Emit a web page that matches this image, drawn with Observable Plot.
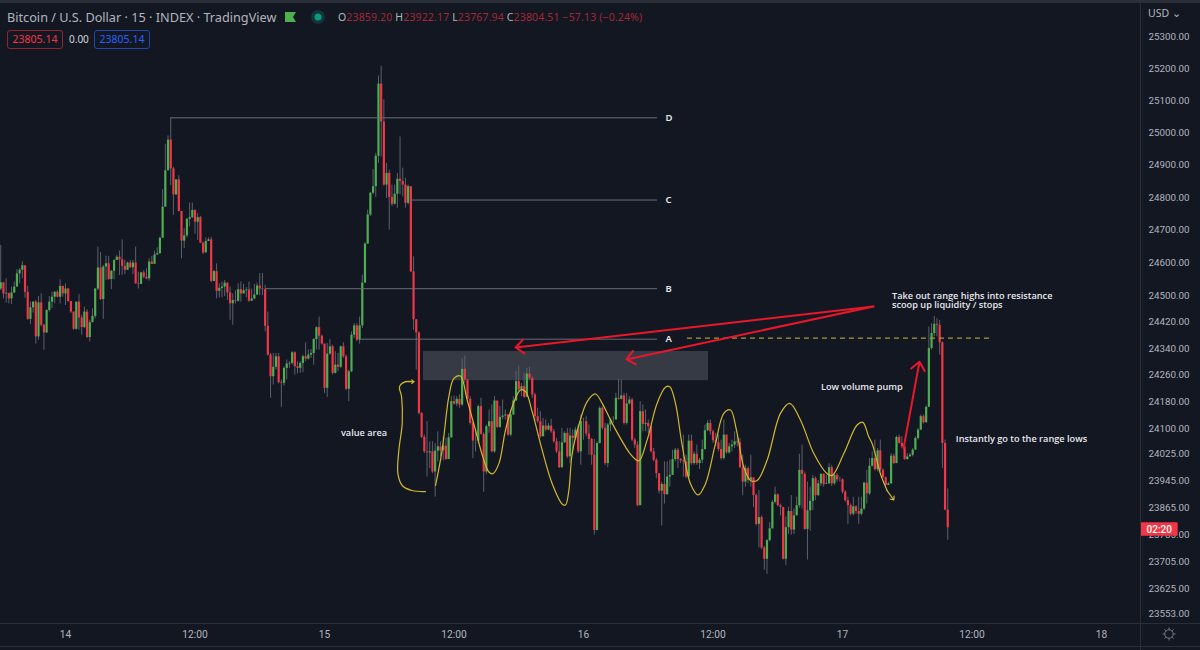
<!DOCTYPE html>
<html>
<head>
<meta charset="utf-8">
<script src="https://cdn.jsdelivr.net/npm/d3@7"></script>
<script src="https://cdn.jsdelivr.net/npm/@observablehq/plot@0.6"></script>
<style>
html,body{margin:0;padding:0;background:#131722;width:1200px;height:650px;overflow:hidden}
#stage{position:relative;width:1200px;height:650px;font-family:"Noto Sans",sans-serif;color:#b2b5be}
#stage svg.plot{position:absolute;left:0;top:0}
.a{position:absolute;white-space:nowrap}
.box{position:absolute;box-sizing:border-box;height:19px;top:30px;width:56px;border:1px solid;border-radius:3px;font-size:10.5px;line-height:17px;text-align:center}
.line{position:absolute;background:#2a2e39}
.o{color:#b2b5be}.r{color:#a32735}
</style>
</head>
<body>
<div id="stage">
  <div class="line" style="left:0;top:0;width:1200px;height:3px"></div>
  <div class="line" style="left:0;top:623px;width:1200px;height:1px"></div>
  <div class="line" style="left:0;top:646px;width:1200px;height:1px"></div>
  <div class="line" style="left:1140px;top:3px;width:1px;height:647px"></div>
  <div class="a" style="left:7px;top:8px;font-size:12.7px;line-height:18px;color:#b2b5be">Bitcoin / U.S. Dollar · 15 · INDEX · TradingView</div>
  <svg class="a" style="left:283px;top:10px" width="50" height="16">
    <polygon points="2,2 13,2 10,7 13,12 2,12" fill="#4caf50"/>
    <circle cx="35" cy="7" r="7" fill="#12343a"/><circle cx="35" cy="7" r="3.5" fill="#089981"/>
  </svg>
  <div class="a" style="left:338px;top:9px;font-size:10.5px;line-height:16px;letter-spacing:.15px"><span class="o">O</span><span class="r">23859.20</span> <span class="o">H</span><span class="r">23922.17</span> <span class="o">L</span><span class="r">23767.94</span> <span class="o">C</span><span class="r">23804.51</span> <span class="r">−57.13 (−0.24%)</span></div>
  <div class="box" style="left:7px;color:#f23645;border-color:#8f2532">23805.14</div>
  <div class="a" style="left:69px;top:31px;font-size:10px;line-height:17px;color:#d1d4dc">0.00</div>
  <div class="box" style="left:94px;color:#2962ff;border-color:#2147b0">23805.14</div>
  <div class="a" style="left:1148px;top:5px;font-size:10.5px;line-height:16px;color:#b2b5be">USD ⌄</div>
  <svg class="a" style="left:1161px;top:626px" width="16" height="16" fill="none" stroke="#787b86" stroke-width="1">
    <circle cx="8" cy="8" r="4.2"/>
    <path d="M8 1.5V3.5M8 12.5V14.5M1.5 8H3.5M12.5 8H14.5M3.4 3.4L4.8 4.8M11.2 11.2L12.6 12.6M3.4 12.6L4.8 11.2M11.2 4.8L12.6 3.4"/>
  </svg>
</div>
<script>
// Candle closes, highs and lows (USD), one per 15 minutes, from 13 Aug 18:00
const closes = [
24539,24505,24507,24490,24508,24526,24566,24577,24591,24510,24428,24463,24480,24375,24478,24410,24387,24455,24480,24495,
24510,24495,24528,24505,24520,24482,24450,24398,24480,24432,24403,24450,24373,24418,24437,24520,24584,24488,24587,24597,
24549,24574,24607,24617,24609,24589,24577,24599,24585,24599,24536,24534,24569,24556,24551,24602,24595,24624,
24628,24675,24770,24882,24977,24888,24808,24854,24757,24666,24682,24733,24738,24760,24724,24738,24660,24630,24665,24670,
24543,24573,24513,24522,24526,24538,24508,24475,24485,24483,24518,24505,24515,24517,24483,24490,24502,24529,24520,24518,
24407,24320,24255,24283,24315,24237,24235,24280,24293,24295,24327,24285,24280,24295,24315,24308,24320,24325,24367,24403,
24377,24353,24220,24323,24345,24265,24290,24283,24345,24315,24217,24270,24380,24408,24365,24408,24538,24657,24746,24813,
24833,24927,25151,25033,24838,24874,24800,24779,24810,24856,24849,24838,24782,24833,24572,24427,24387,24145,
24073,24030,24027,24030,23970,24032,24045,24033,24047,24007,24072,24180,24173,24187,24170,24277,24245,24187,24115,24062,
24062,24165,24082,23970,24105,24120,24030,24182,24103,24133,24137,24140,24080,24140,24182,24240,24215,24225,24193,24263,
24250,24200,24135,24120,24075,24107,24095,24107,24090,24060,24030,23983,24057,24085,24015,24077,24070,24095,24030,24120,
24120,24083,24067,24020,23797,24055,24160,24100,23995,24110,24125,24125,24190,24187,24197,24115,24173,24185,24065,24050,
23870,24150,24112,24115,24105,24030,24005,23965,23913,23933,23903,23955,23960,24007,24035,24007,24003,24000,23955,24062,
23995,24023,23995,24005,24037,24093,24115,24090,24063,24057,24037,24010,24080,24027,24045,24050,24060,24057,23983,23940,
23980,23945,23953,23900,23815,23835,23745,23712,23767,23802,23880,23902,23870,23865,23712,23805,23853,23798,23840,23870,
23975,23963,23800,23855,23883,23950,23900,23935,23963,23933,23935,23983,23935,23960,23947,23947,23910,23885,23870,23845,
23867,23853,23845,23860,23937,23905,23987,
24010,23977,24033,23975,23953,23930,23935,24017,23995,24073,24055,24045,24007,24015,24020,24035,24070,24095,24135,24117,
24163,24340,24385,24413,24410,24357,24055,23857,23805
];
const highs = [
24653,24539,24551,24505,24526,24541,24579,24582,24603,24589,24528,24480,24482,24485,24497,24505,24413,24457,24497,24510,
24513,24515,24548,24529,24536,24522,24480,24450,24480,24503,24440,24465,24457,24425,24460,24522,24648,24631,24592,24620,
24619,24577,24609,24622,24636,24670,24607,24602,24607,24607,24648,24571,24571,24576,24582,24612,24619,24636,
24646,24678,24824,24964,24990,25043,24893,24854,24867,24753,24704,24735,24783,24783,24762,24750,24742,24663,24676,24676,
24678,24577,24597,24536,24541,24546,24538,24526,24505,24515,24536,24541,24534,24524,24541,24520,24534,24538,24567,24567,
24531,24450,24325,24325,24325,24325,24245,24285,24305,24300,24330,24330,24300,24300,24320,24357,24335,24337,24370,24405,
24435,24380,24353,24355,24367,24350,24330,24325,24347,24357,24320,24275,24390,24415,24415,24435,24562,24661,24761,24815,
24886,24936,25176,25207,25102,24905,24884,24838,24838,24874,24987,24890,24859,24838,24833,24618,24425,24390,
24147,24080,24120,24060,24060,24055,24090,24060,24075,24070,24085,24195,24197,24195,24200,24310,24317,24245,24195,24120,
24095,24170,24190,24087,24110,24155,24170,24195,24175,24165,24185,24155,24140,24155,24195,24270,24287,24235,24265,24280,
24283,24255,24205,24160,24150,24130,24125,24115,24127,24097,24070,24060,24100,24090,24100,24100,24095,24103,24110,24140,
24130,24135,24110,24070,24067,24060,24165,24165,24115,24115,24130,24135,24205,24247,24245,24205,24205,24195,24190,24070,
24060,24180,24170,24155,24125,24105,24040,24010,23965,23940,24000,24000,24005,24035,24040,24040,24010,24080,24020,24080,
24080,24030,24050,24010,24065,24110,24123,24125,24095,24085,24080,24065,24125,24080,24055,24065,24090,24080,24070,24020,
23990,23985,24020,23947,23905,23915,23840,23750,23770,23820,23885,23925,23905,23875,23837,23837,23865,23900,23860,23895,
24023,24050,23970,23940,23925,23960,23955,23945,23965,23965,23960,23995,23990,23965,23965,23955,23950,23915,23895,23875,
23895,23870,23895,23895,23940,23975,24010,
24030,24065,24040,24065,23980,23955,23940,24025,24023,24077,24080,24075,24050,24025,24025,24040,24075,24100,24140,24140,
24167,24405,24415,24437,24430,24425,24360,24065,23920
];
const lows = [
24515,24490,24477,24475,24473,24507,24526,24536,24551,24492,24425,24412,24447,24353,24365,24405,24335,24385,24450,24460,
24475,24493,24475,24495,24470,24480,24445,24395,24395,24395,24380,24400,24370,24360,24418,24430,24515,24485,24428,24546,
24546,24518,24548,24607,24561,24561,24564,24577,24582,24564,24534,24520,24536,24551,24548,24544,24595,24607,
24622,24625,24676,24772,24885,24837,24745,24806,24755,24612,24643,24676,24709,24735,24687,24668,24658,24625,24630,24666,
24539,24546,24490,24493,24493,24497,24485,24425,24410,24475,24480,24480,24505,24493,24480,24483,24487,24500,24500,24500,
24390,24317,24190,24230,24275,24233,24163,24227,24245,24280,24290,24260,24263,24265,24267,24300,24305,24310,24290,24335,
24335,24350,24205,24193,24320,24260,24263,24270,24280,24310,24213,24180,24267,24370,24360,24353,24400,24538,24657,24741,
24808,24800,24905,24925,24835,24797,24700,24772,24777,24767,24808,24802,24767,24777,24570,24395,24275,24140,
24070,24025,23955,23980,23965,23895,24000,24015,24003,24005,24010,24070,24170,24165,24160,24165,24235,24185,24110,24010,
24030,24055,24080,23910,23963,24085,24027,24025,24100,24100,24125,24125,24077,24075,24140,24180,24210,24195,24190,24193,
24245,24190,24120,24115,24070,24075,24090,24093,24085,24055,24025,23980,23980,24055,24010,23995,24020,24065,24025,23990,
24065,24075,24020,23990,23783,23795,24053,24095,23990,23983,24090,24115,24133,24185,24185,24110,24110,24170,24060,24040,
23867,23880,24090,24090,24085,24027,24000,23950,23905,23810,23875,23900,23925,23963,24000,23980,23995,23955,23950,23947,
23990,23990,23990,23977,23995,24035,24090,24080,24055,24045,24030,24005,24005,24023,24023,24030,24040,24045,23980,23900,
23925,23935,23925,23865,23810,23745,23740,23680,23668,23763,23800,23875,23867,23840,23710,23693,23785,23783,23785,23840,
23863,23860,23797,23710,23795,23855,23885,23897,23927,23925,23933,23933,23927,23930,23940,23940,23905,23880,23815,23840,
23840,23845,23815,23840,23855,23875,23900,
23985,23973,23970,23970,23950,23927,23930,23933,23993,23995,24053,24040,24005,24005,24015,24015,24035,24065,24093,24113,
24115,24163,24335,24375,24375,24320,23980,23855,23768
];
const firstOpen = 24520;
const startHour = -6;        // hours relative to 14 Aug 00:00
const candleHours = 0.25;

const xTicks = [0,12,24,36,48,60,72,84,96];
const xLabels = ["14","12:00","15","12:00","16","12:00","17","12:00","18"];
const yTicks = [25300,25200,25100,25000,24900,24800,24700,24600,24500,24420,24340,24260,24180,24100,24025,23945,23865,23785,23705,23625,23553];

const levels = [
  {name:"D", start:9.73,  end:54.86, price:25046},
  {name:"C", start:31.97, end:54.86, price:24792},
  {name:"B", start:18.53, end:54.86, price:24521},
  {name:"A", start:27.33, end:54.86, price:24368}
];
const levelLabelHour = 55.6;
const dashedLevel = [{start:57.63, end:85.71, price:24371}];
const zone = [{start:33.17, end:59.58, low:24243, high:24331}];

const waveHours = [34.29,34.90,35.52,35.99,36.60,37.22,37.99,38.67,39.23,39.60,40.16,40.77,41.39,42.16,42.63,43.24,44.17,45.10,46.02,46.33,46.64,46.95,47.57,48.34,49.11,49.73,50.66,51.89,52.35,53.12,53.89,54.82,55.59,55.99,56.52,57.14,57.91,58.62,59.30,60.23,61.00,61.62,62.17,62.85,63.47,64.09,65.01,66.25,67.11,68.10,69.34,70.57,71.04,72.12,73.35,73.88,74.43,74.74,75.14,75.51,76.13];
const wavePrices = [23930,24035,24195,24250,24257,24185,24095,24015,23970,23965,23995,24095,24165,24215,24210,24150,24035,23935,23875,23872,23915,24025,24110,24180,24203,24175,24115,24045,24023,24003,24065,24175,24223,24225,24175,24050,23935,23902,23935,24055,24145,24155,24095,23985,23945,23945,24005,24145,24175,24125,24025,23965,23960,24025,24110,24118,24075,24055,24010,23965,23915];
const hookHours = [33.36,32.12,31.20,30.80,30.89,31.20,31.14,30.95,31.51,32.28];
const hookPrices = [23912,23915,23930,23965,24035,24115,24195,24225,24240,24240];

const redArrows = [
  {x1:74.87, y1:24467, x2:41.70, y2:24343},
  {x1:74.87, y1:24467, x2:51.98, y2:24307},
  {x1:77.65, y1:24040, x2:79.13, y2:24300}
];
const yellowHeads = [
  {x1:76.13, y1:23915, x2:76.75, y2:23887},
  {x1:31.51, y1:24240, x2:32.28, y2:24240}
];
const notes = [
  {hour:76.58, price:24500, text:"Take out range highs into resistance"},
  {hour:76.58, price:24470, text:"scoop up liquidity / stops"},
  {hour:70.0,  price:24224, text:"Low volume pump"},
  {hour:25.52, price:24086, text:"value area"},
  {hour:82.5,  price:24068, text:"Instantly go to the range lows"}
];
const priceTag = [{start:99.61, end:103.1, low:23780, high:23820, mid:101.35, label:"02:20", price:23800}];

const candles = closes.map((c,i)=>({
  t: startHour + i*candleHours,
  o: i===0 ? firstOpen : closes[i-1],
  c, h: highs[i], l: lows[i]
}));
const up = candles.filter(d=>d.c>=d.o);
const down = candles.filter(d=>d.c<d.o);
const wave = waveHours.map((h,i)=>({h, p:wavePrices[i]}));
const hook = hookHours.map((h,i)=>({h, p:hookPrices[i]}));

const chart = Plot.plot({
  width:1200, height:650,
  marginTop:0, marginBottom:27, marginLeft:0, marginRight:60,
  style:{background:"transparent", fontFamily:'"Noto Sans",sans-serif', overflow:"visible"},
  x:{domain:[-6.023,99.61], label:null},
  y:{type:"log", domain:[23524,25413], label:null},
  marks:[
    Plot.rect(zone,{x1:"start",x2:"end",y1:"low",y2:"high",fill:"#363a45"}),
    Plot.ruleX(candles,{x:"t",y1:"l",y2:"h",stroke:"#5d606b",strokeWidth:1}),
    Plot.ruleX(up,{x:"t",y1:"o",y2:"c",stroke:"#4caf50",strokeWidth:2.2}),
    Plot.ruleX(down,{x:"t",y1:"o",y2:"c",stroke:"#f23645",strokeWidth:2.2}),
    Plot.ruleY(levels,{y:"price",x1:"start",x2:"end",stroke:"#6a6d78",strokeWidth:1}),
    Plot.ruleY(dashedLevel,{y:"price",x1:"start",x2:"end",stroke:"#a89a3a",strokeWidth:1.2,strokeDasharray:"5,4"}),
    Plot.line(wave,{x:"h",y:"p",curve:"catmull-rom",stroke:"#d4b82a",strokeWidth:1.2}),
    Plot.line(hook,{x:"h",y:"p",curve:"catmull-rom",stroke:"#d4b82a",strokeWidth:1.2}),
    Plot.arrow(yellowHeads,{x1:"x1",y1:"y1",x2:"x2",y2:"y2",stroke:"#d4b82a",strokeWidth:1.2,headLength:7,headAngle:80}),
    Plot.arrow(redArrows,{x1:"x1",y1:"y1",x2:"x2",y2:"y2",stroke:"#e8172a",strokeWidth:2,headLength:8,headAngle:80}),
    Plot.text(levels,{x:()=>levelLabelHour,y:"price",text:"name",textAnchor:"start",fontSize:9.5,fontWeight:600,fill:"#e6e8ee"}),
    Plot.text(notes,{x:"hour",y:"price",text:"text",textAnchor:"start",fontSize:9.2,fontWeight:600,fill:"#e6e8ee",fontFamily:'"Open Sans"'}),
    Plot.axisX({anchor:"bottom",ticks:xTicks,tickFormat:d=>xLabels[xTicks.indexOf(d)],tickSize:0,tickPadding:7,fontSize:10.2,fontFamily:"Roboto",fill:"#b2b5be",label:null}),
    Plot.axisY({anchor:"right",ticks:yTicks,tickFormat:d=>d.toFixed(2),tickSize:0,tickPadding:8,fontSize:9.8,fontFamily:"Roboto",fill:"#b2b5be",label:null}),
    Plot.rect(priceTag,{x1:"start",x2:"end",y1:"low",y2:"high",fill:"#f23645",rx:1}),
    Plot.text(priceTag,{x:"mid",y:"price",text:"label",fontSize:10,fontFamily:"Roboto",fill:"#ffffff",fontWeight:500})
  ]
});
document.getElementById("stage").appendChild(chart);
</script>
</body>
</html>
